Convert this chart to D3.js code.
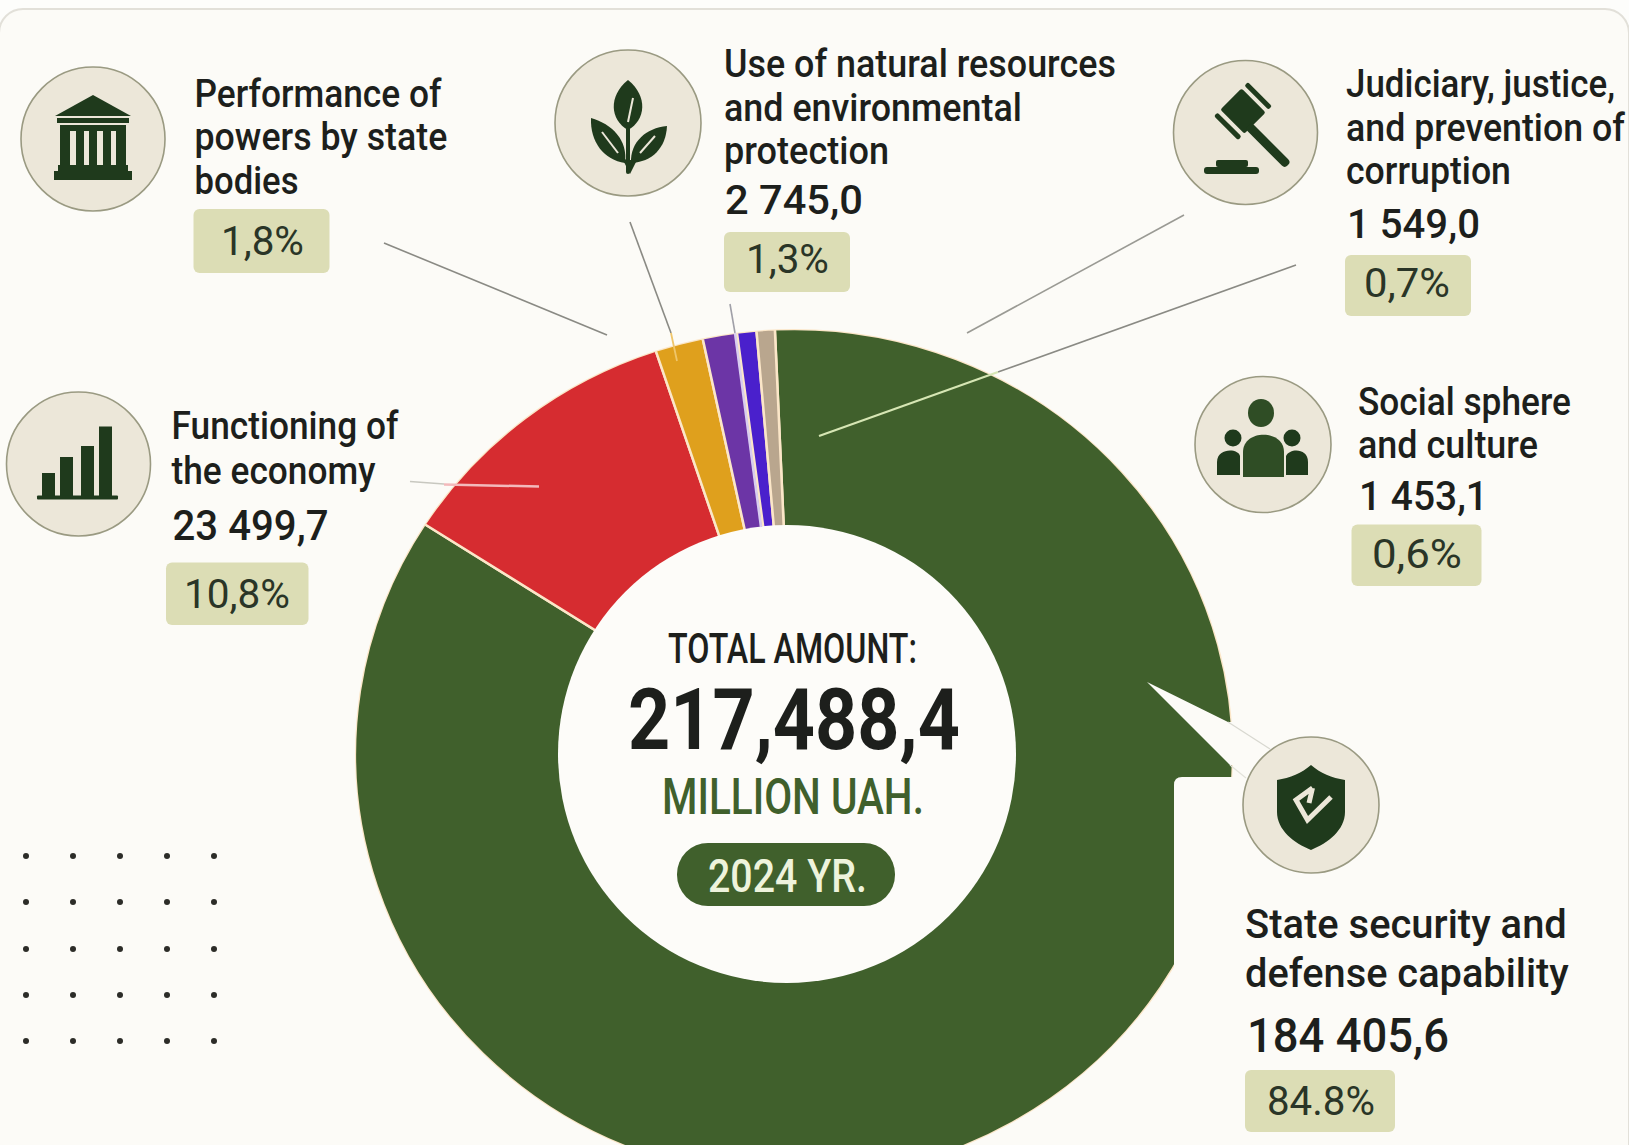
<!DOCTYPE html>
<html><head><meta charset="utf-8">
<script src="https://cdnjs.cloudflare.com/ajax/libs/d3/7.9.0/d3.min.js"></script>
<style>html,body{margin:0;padding:0;background:#fdfdfb;overflow:hidden}svg{display:block}text{font-family:Roboto,"Liberation Sans",sans-serif}</style>
</head><body><script>
// ---- data ----
const categories = ["State security and defense capability","Functioning of the economy","Performance of powers by state bodies","Use of natural resources and environmental protection","Judiciary, justice, and prevention of corruption","Social sphere and culture"];
const amounts = [184405.6, 23499.7, 3836.0, 2745.0, 1549.0, 1453.1];
const percentLabels = ["84.8%","10,8%","1,8%","1,3%","0,7%","0,6%"];
const amountLabels = ["184 405,6","23 499,7","","2 745,0","1 549,0","1 453,1"];
const sliceColors = ["#40602c","#d62c30","#dfa01d","#6c35a6","#4a20cc","#b9a68e"];
const totalLine = ["TOTAL AMOUNT:","217,488,4","MILLION UAH.","2024 YR."];

// ---- layout ----
const W=1629,H=1145, ink="#1d1f1c", green="#40602c", dark="#1f3a1c", paper="#fcfbf7";
const svg=d3.select("body").append("svg").attr("width",W).attr("height",H);
svg.append("rect").attr("x",-1).attr("y",9).attr("width",W+1).attr("height",H+30).attr("rx",24)
  .attr("fill",paper).attr("stroke","#e2e0d9").attr("stroke-width",2);

// text fitted to the width it occupies in the picture
function txt(s,x,y,size,len,o={}){
  const t=svg.append("text").attr("font-size",size)
    .attr("font-weight",o.w||500).attr("fill",o.c||ink).text(s);
  const natural=t.node().getComputedTextLength();
  return t.attr("transform",`translate(${x},${y}) scale(${len/natural},1)`);
}

// ---- donut ----
const cx=794,cy=754,R=439,squash=425/439;
const pie=d3.pie().sort(null).value(d=>d).startAngle(-2.5*Math.PI/180).endAngle(357.5*Math.PI/180);
const arc=d3.arc().innerRadius(200).outerRadius(R);
const ring=svg.append("g").attr("transform",`translate(${cx},${cy}) scale(1,${squash})`);
ring.selectAll("path").data(pie(amounts)).join("path").attr("d",arc)
  .attr("fill",(d,i)=>sliceColors[i]).attr("stroke","#fbe6c8").attr("stroke-width",2.5);
ring.append("circle").attr("r",R+1.5).attr("fill","none").attr("stroke",paper).attr("stroke-width",3);
// centre hole
svg.append("circle").attr("cx",787).attr("cy",754).attr("r",229).attr("fill","#fdfcf9");

// cut-out around the defence callout
svg.append("path").attr("fill",paper)
  .attr("d","M1147 682L1228 722L1245 722L1245 765L1230 765Z");
svg.append("path").attr("fill",paper)
  .attr("d","M1174 785Q1174 777 1182 777L1262 777L1262 985L1174 985Z");

// ---- leader lines ----
const leaders=[
 [384,243,607,335,"#8a8a84",1.6],[630,222,671,333,"#8a8a84",1.6],[671,333,677,361,"#efc56a",1.8],
 [730,304,735,333,"#a0a0a8",1.6],[735,333,761,527,"#d8cdf0",2.5],
 [1184,215,967,333,"#9a9a94",1.6],[1296,265,998,372,"#8a8a84",1.6],[998,372,819,436,"#d6e6b4",2.2],
 [410,481.5,444,484,"#c8c8c0",1.6],[444,484.5,539,486.5,"#f3b9bb",2.5],
 [1228,722,1270,749,"#d8d8d0",1.2],[1230,765,1246,778,"#e2e2da",1.2]];
svg.append("g").selectAll("line").data(leaders).join("line")
  .attr("x1",d=>d[0]).attr("y1",d=>d[1]).attr("x2",d=>d[2]).attr("y2",d=>d[3])
  .attr("stroke",d=>d[4]).attr("stroke-width",d=>d[5]);

// ---- centre text ----
txt(totalLine[0],668,663,42,249,{w:500});
txt(totalLine[1],628,749,85,332,{w:700});
txt(totalLine[2],662,814,50,262,{w:500,c:green});
svg.append("rect").attr("x",677).attr("y",843).attr("width",218).attr("height",63).attr("rx",31).attr("fill",green);
txt(totalLine[3],708,892,46,159,{w:500,c:"#eef3dc"});

// ---- label blocks ----
const blocks=[
 {i:0,lines:[["State security and",1245,938,322],["defense capability",1245,987,324]],size:40,amt:[1247,1052,202,48],badge:[1245,1070,150,62],pt:[1267,1115,108,40]},
 {i:1,lines:[["Functioning of",171.5,439,227],["the economy",171.5,484,204]],size:38,amt:[172.5,540,156,42],badge:[166,562.5,142.5,62.5],pt:[184,608,106,40]},
 {i:2,lines:[["Performance of",194.5,107,247],["powers by state",194.5,150,253],["bodies",194.5,194,104]],size:38,badge:[193.5,209,136,64],pt:[221,255,83,40]},
 {i:3,lines:[["Use of natural resources",724,77,392],["and environmental",724,120.5,298],["protection",724,164,165]],size:38,amt:[725,214,138,41],badge:[724,232,126,60],pt:[746,273,83,40]},
 {i:4,lines:[["Judiciary, justice,",1346,97,269],["and prevention of",1346,141,279],["corruption",1346,184,165]],size:38,amt:[1347,238,133,41],badge:[1345,255,126,61],pt:[1364,297,86,40]},
 {i:5,lines:[["Social sphere",1358,415,213],["and culture",1358,458,180]],size:38,amt:[1359,510,129,41],badge:[1351.5,524.5,130,61.5],pt:[1372,568,90,40]}
];
blocks.forEach(b=>{
  b.lines.forEach(l=>txt(l[0],l[1],l[2],b.size,l[3]));
  if(b.amt) txt(amountLabels[b.i],b.amt[0],b.amt[1],b.amt[3],b.amt[2]);
  svg.append("rect").attr("x",b.badge[0]).attr("y",b.badge[1]).attr("width",b.badge[2]).attr("height",b.badge[3]).attr("rx",6).attr("fill","#dcddb5");
  txt(percentLabels[b.i],b.pt[0],b.pt[1],b.pt[3],b.pt[2],{w:400,c:"#2a3527"});
});

// ---- icon discs ----
const discs=[[93,139,72],[628,123,73],[1245.5,132.5,72],[78.5,464,72],[1263,444.5,68],[1311,805,68]];
svg.append("g").selectAll("circle").data(discs).join("circle")
  .attr("cx",d=>d[0]).attr("cy",d=>d[1]).attr("r",d=>d[2])
  .attr("fill","#ece7d9").attr("stroke","#9a9a82").attr("stroke-width",1.6);
const ic=svg.append("g").attr("fill",dark);
const r=(x,y,w,h,rx=0,g=ic)=>g.append("rect").attr("x",x).attr("y",y).attr("width",w).attr("height",h).attr("rx",rx);
const p=(d,g=ic)=>g.append("path").attr("d",d);
// bank
p("M93 95L131 116L55 116Z"); r(57,118,72,5);
r(60,125,66,6); [60,76,89,103,116].forEach((x,i)=>r(x,131,i==0||i==4?10:8,35));
r(58,165,70,6); r(54,171,78,9);
// leaves
p("M628 80C608 96 610 120 628 130C646 120 648 96 628 80Z");
p("M591 118C590 142 604 160 625 163C628 140 612 124 591 118Z");
p("M667 126C666 148 652 162 631 163C630 142 646 128 667 126Z");
r(626,127,4,47,2);
p("M627 160L622 158L630 174L638 158L633 160Z");
ic.append("g").attr("stroke","#ece7d9").attr("stroke-width",2).attr("fill","none").selectAll("path")
  .data(["M628 122L633 98","M618 153L602 132","M640 153L655 136"]).join("path").attr("d",d=>d);
// gavel
const gv=ic.append("g").attr("transform","translate(1238,116) rotate(45)");
r(-17,-22,34,30,2,gv); r(-17,-31,34,5,2,gv); r(-17,12,34,5,2,gv);
gv.append("rect").attr("x",14).attr("y",-5).attr("width",56).attr("height",9).attr("rx",4);
r(1216,160,32,7,2); r(1204,167,55,7,3);
// bars
[[42,473],[60,457],[81,446],[99,426.5]].forEach(b=>r(b[0],b[1],13,498-b[1]));
r(37,495.5,81,4,1);
// people
ic.append("ellipse").attr("cx",1261).attr("cy",413).attr("rx",13).attr("ry",14).attr("fill","#2f4d25");
ic.append("circle").attr("cx",1233).attr("cy",438).attr("r",8.5);
ic.append("circle").attr("cx",1292).attr("cy",438).attr("r",8.5);
p("M1243 477V452C1243 429 1284 429 1284 452V477Z").attr("fill","#2f4d25");
p("M1217 475V462C1217 448 1238 448 1240 456V475Z");
p("M1286 475V456C1290 448 1308 448 1308 462V475Z");
// shield
p("M1311 765C1320 773 1332 778 1345 780V812C1345 830 1328 843 1311 850C1294 843 1277 830 1277 812V780C1290 778 1302 773 1311 765Z");
ic.append("path").attr("d","M1312.5 788L1296 800L1307.5 820L1331 797M1312.5 788L1309 803")
  .attr("fill","none").attr("stroke","#ece7d9").attr("stroke-width",5);

// ---- dot pattern ----
const dotXs=[26,73,120,167,214], dotYs=[856,902,949,995,1041];
svg.append("g").selectAll("g").data(dotYs).join("g").selectAll("circle")
  .data(y=>dotXs.map(x=>[x,y])).join("circle")
  .attr("cx",d=>d[0]).attr("cy",d=>d[1]).attr("r",3).attr("fill","#2c2c28");
</script></body></html>
